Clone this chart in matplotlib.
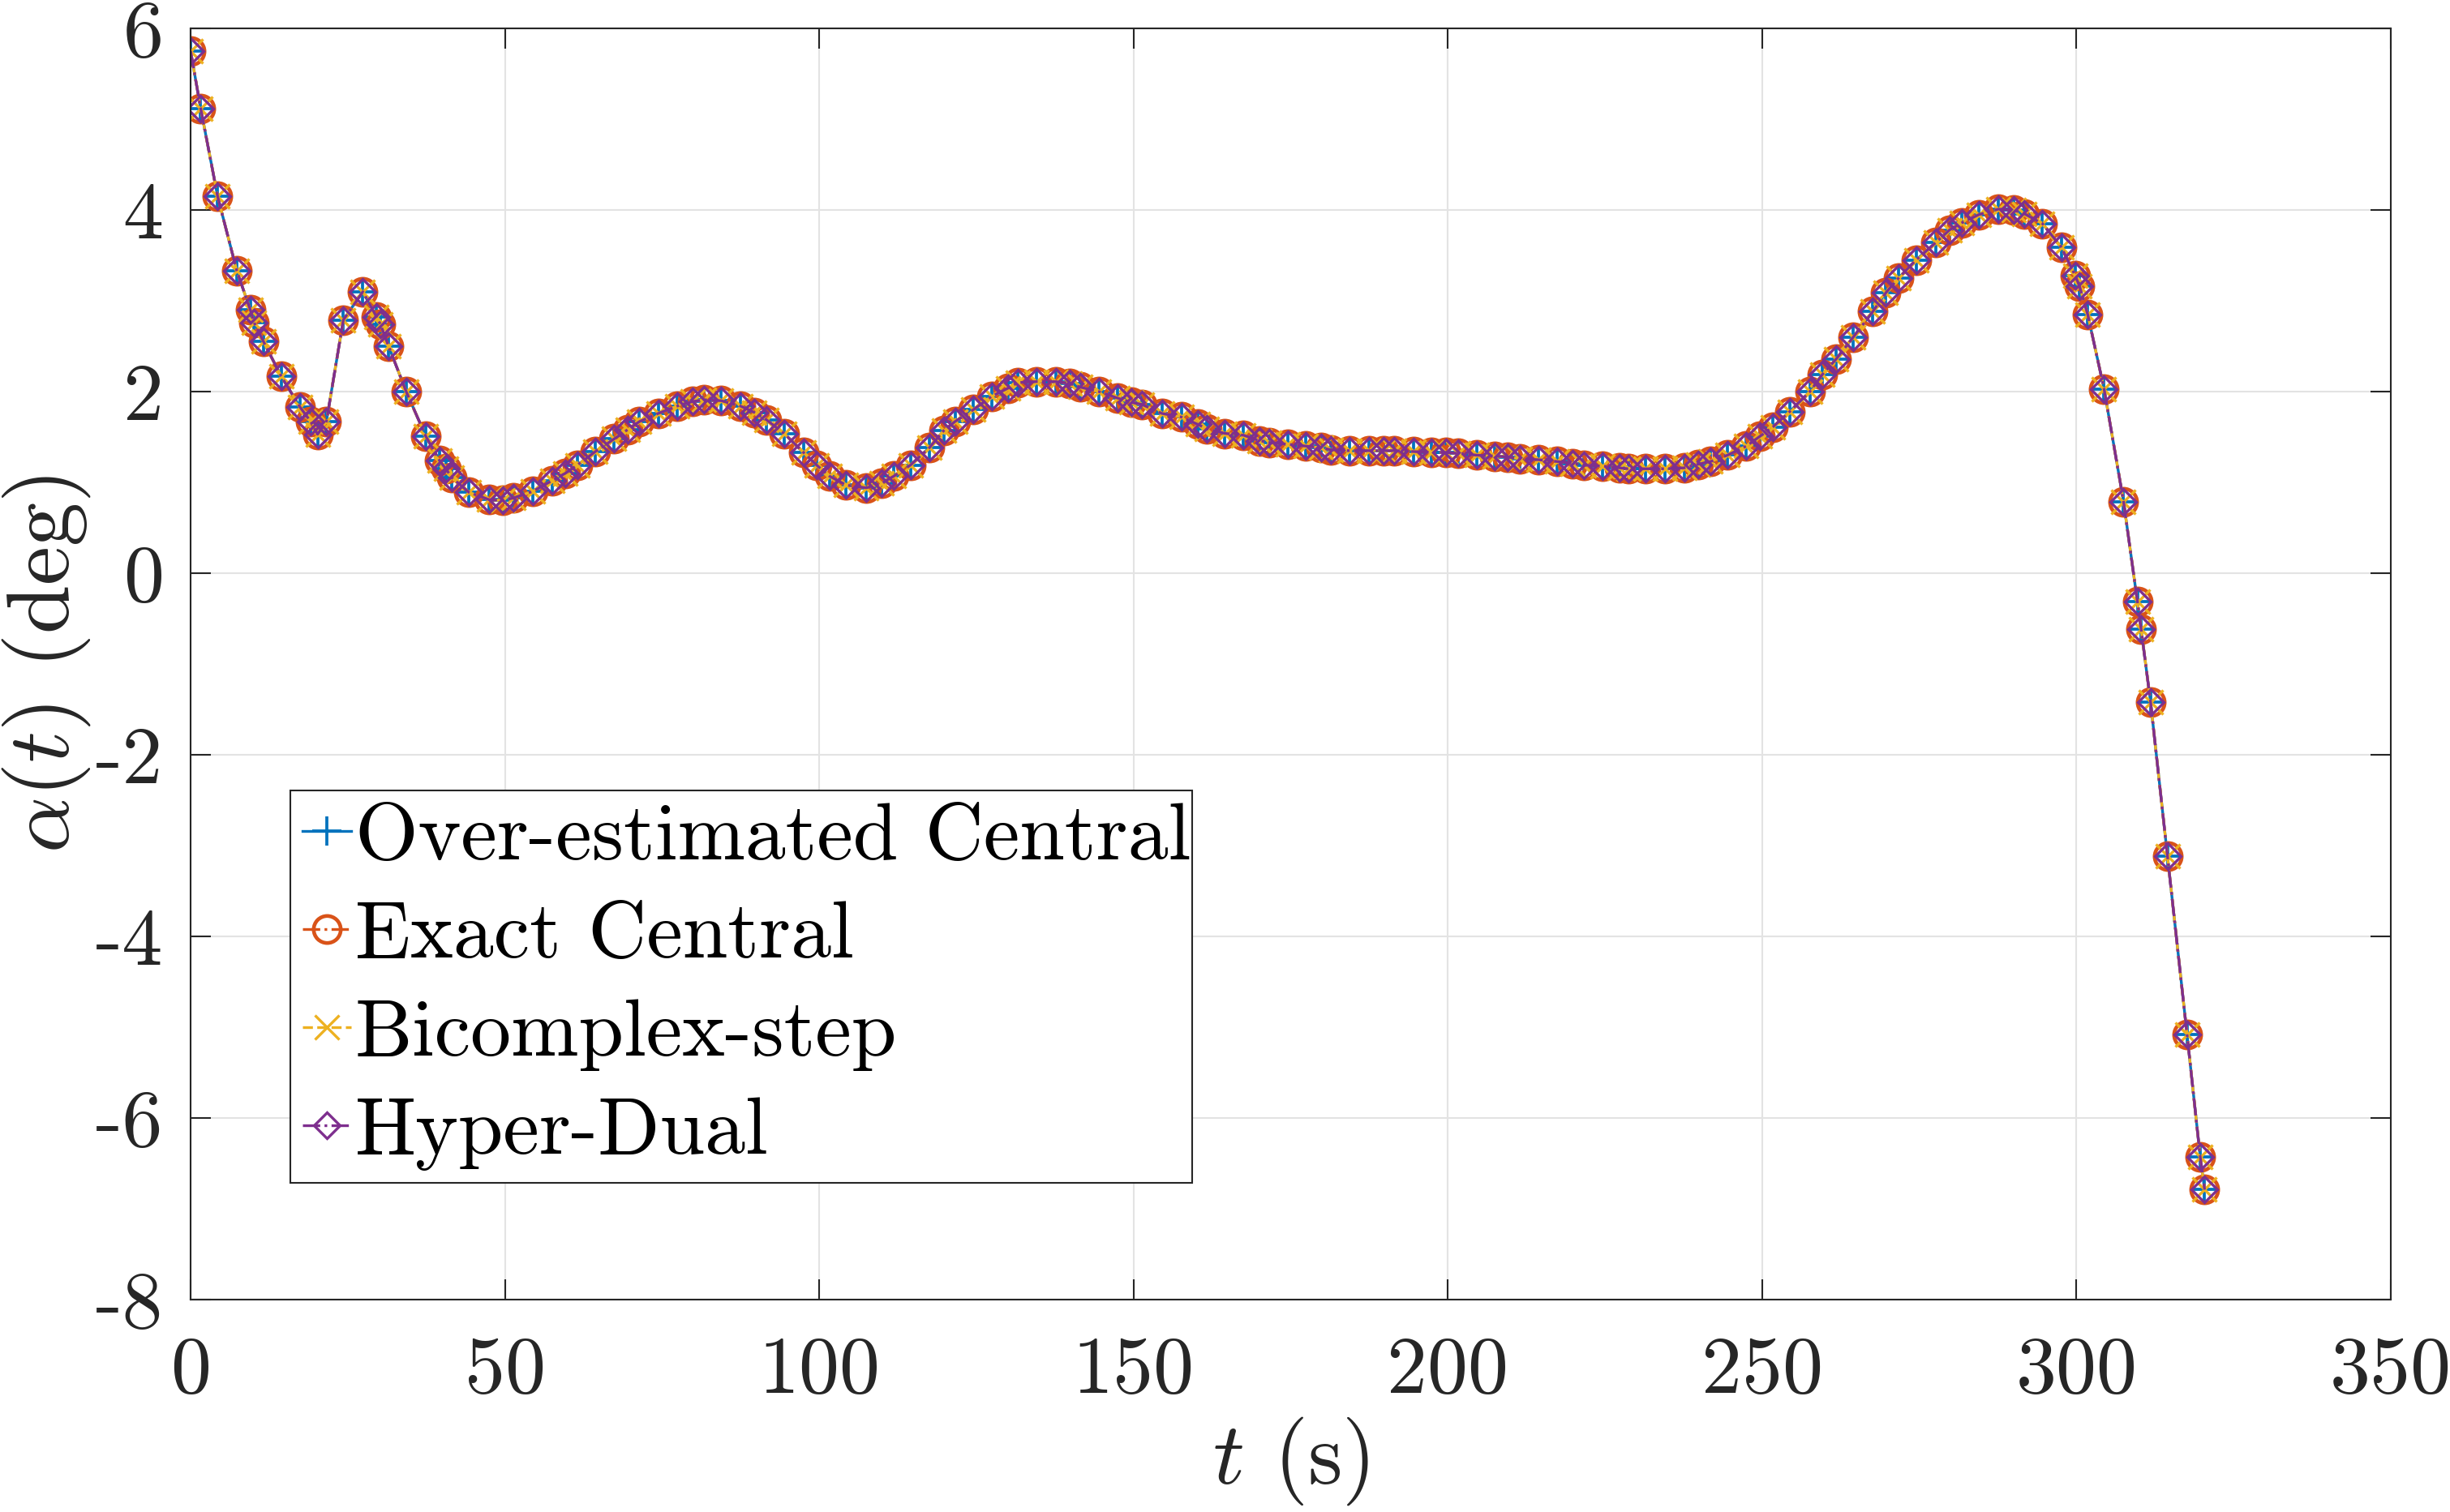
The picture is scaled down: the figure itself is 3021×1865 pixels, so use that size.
import matplotlib
matplotlib.use("Agg")
import matplotlib.pyplot as plt
import numpy as np

# %% data (adaptive time steps)
t = [0.0, 1.6, 4.3, 7.35, 9.5, 10.1, 11.6, 14.4, 17.4, 19.1, 20.2, 21.6,
     24.3, 27.4, 29.6, 30.2, 31.5, 34.3, 37.4, 39.6, 40.6, 41.6, 44.3, 47.5,
     49.7, 51.4, 54.4, 57.5, 59.6, 61.5, 64.4, 67.4, 69.5, 71.4, 74.4, 77.4,
     79.8, 81.7, 84.4, 87.5, 89.7, 91.6, 94.4, 97.5, 99.6, 101.6, 104.3, 107.5,
     109.9, 111.9, 114.5, 117.5, 119.8, 121.6, 124.5, 127.5, 130.1, 131.6,
     134.5, 137.6, 139.8, 141.5, 144.5, 147.4, 149.7, 151.3, 154.5, 157.6,
     160.2, 161.7, 164.5, 167.5, 170.0, 171.6, 174.5, 177.4, 179.9, 181.4,
     184.3, 187.4, 189.8, 191.5, 194.5, 197.4, 199.7, 201.6, 204.6, 207.5,
     209.5, 211.5, 214.4, 217.4, 219.9, 221.6, 224.6, 227.3, 228.7, 231.4,
     234.5, 237.6, 239.8, 241.8, 244.5, 247.5, 249.7, 251.7, 254.4, 257.6,
     259.6, 261.8, 264.5, 267.6, 269.7, 271.7, 274.5, 277.6, 279.8, 281.8,
     284.5, 287.6, 290.0, 291.7, 294.6, 297.6, 299.8, 300.5, 301.8, 304.4,
     307.5, 309.7, 310.3, 311.8, 314.5, 317.6, 319.7, 320.4]
alpha = [5.75, 5.12, 4.15, 3.33, 2.90, 2.76, 2.55, 2.17, 1.83, 1.67, 1.53, 1.67,
         2.79, 3.10, 2.82, 2.74, 2.50, 2.00, 1.51, 1.24, 1.15, 1.05, 0.89, 0.81,
         0.80, 0.83, 0.90, 1.02, 1.10, 1.19, 1.34, 1.48, 1.58, 1.67, 1.76, 1.84,
         1.89, 1.91, 1.90, 1.84, 1.77, 1.69, 1.54, 1.33, 1.19, 1.07, 0.97, 0.94,
         0.99, 1.07, 1.19, 1.38, 1.57, 1.67, 1.80, 1.95, 2.04, 2.10,
         2.11, 2.11, 2.09, 2.05, 2.00, 1.93, 1.88, 1.86, 1.76, 1.72,
         1.64, 1.59, 1.54, 1.52, 1.46, 1.44, 1.42, 1.40, 1.38, 1.36,
         1.35, 1.35, 1.35, 1.35, 1.34, 1.33, 1.33, 1.32, 1.30, 1.29,
         1.28, 1.26, 1.25, 1.23, 1.21, 1.19, 1.18, 1.16, 1.15, 1.15,
         1.15, 1.16, 1.20, 1.23, 1.30, 1.40, 1.51, 1.61, 1.78, 2.00,
         2.19, 2.36, 2.60, 2.88, 3.09, 3.25, 3.45, 3.64, 3.78, 3.86,
         3.95, 4.01, 4.00, 3.96, 3.85, 3.59, 3.28, 3.16, 2.85, 2.03,
         0.79, -0.31, -0.62, -1.42, -3.12, -5.08, -6.43, -6.79]

labels = ["Over-estimated Central", "Exact Central", "Bicomplex-step", "Hyper-Dual"]
colors = ["#0072BD", "#D95319", "#EDB120", "#7E2F8E"]
styles = ["-", "-.", "--", "-."]
markers = ["+", "o", "x", "D"]
msizes = [8.5, 8, 7, 5.5]
mews = [0.9, 1.1, 0.8, 0.8]

xticks = [0, 50, 100, 150, 200, 250, 300, 350]
yticks = [-8, -6, -4, -2, 0, 2, 4, 6]

# %% plot
plt.rcParams["mathtext.fontset"] = "cm"
plt.rcParams["font.family"] = ["cmr10", "DejaVu Serif"]
txt = "#262626"

fig = plt.figure(figsize=(3021 / 300, 1865 / 300), dpi=300)
ax = fig.add_axes([0.0778, 0.1405, 0.898, 0.8407])

for lab, c, ls, m, ms, mew in zip(labels, colors, styles, markers, msizes, mews):
    ax.plot(t, alpha, linestyle=ls, color=c, marker=m, markersize=ms,
            markeredgewidth=mew, markerfacecolor="none", linewidth=0.8, label=lab)

ax.set_xlim(0, 350)
ax.set_ylim(-8, 6)
ax.set_xticks(xticks)
ax.set_yticks(yticks)
ax.set_xticklabels([str(v) for v in xticks])
ax.set_yticklabels([str(v) for v in yticks])
ax.tick_params(direction="in", length=6, width=0.5, top=True, right=True,
               labelsize=24, colors=txt, labelcolor=txt)
ax.tick_params(axis="x", pad=11)
ax.tick_params(axis="y", pad=8)
for s in ax.spines.values():
    s.set_linewidth(0.5)
    s.set_color(txt)
ax.grid(True, color="#e3e3e3", linewidth=0.5)
ax.set_axisbelow(True)

ax.set_xlabel(r"$t$ (s)", fontsize=26, color=txt, labelpad=2)
ax.set_ylabel(r"$\alpha(t)$ (deg)", fontsize=26, color=txt, labelpad=1)

leg = ax.legend(loc="lower left", bbox_to_anchor=(0.0453, 0.0918, 0.41, 0.3125),
                mode="expand", borderaxespad=0, fontsize=24, handlelength=0.6,
                handletextpad=0.05, borderpad=0.15, labelspacing=0.32,
                fancybox=False, framealpha=1, edgecolor=txt)
leg.get_frame().set_linewidth(0.5)

fig.savefig("out.png", dpi=300)
